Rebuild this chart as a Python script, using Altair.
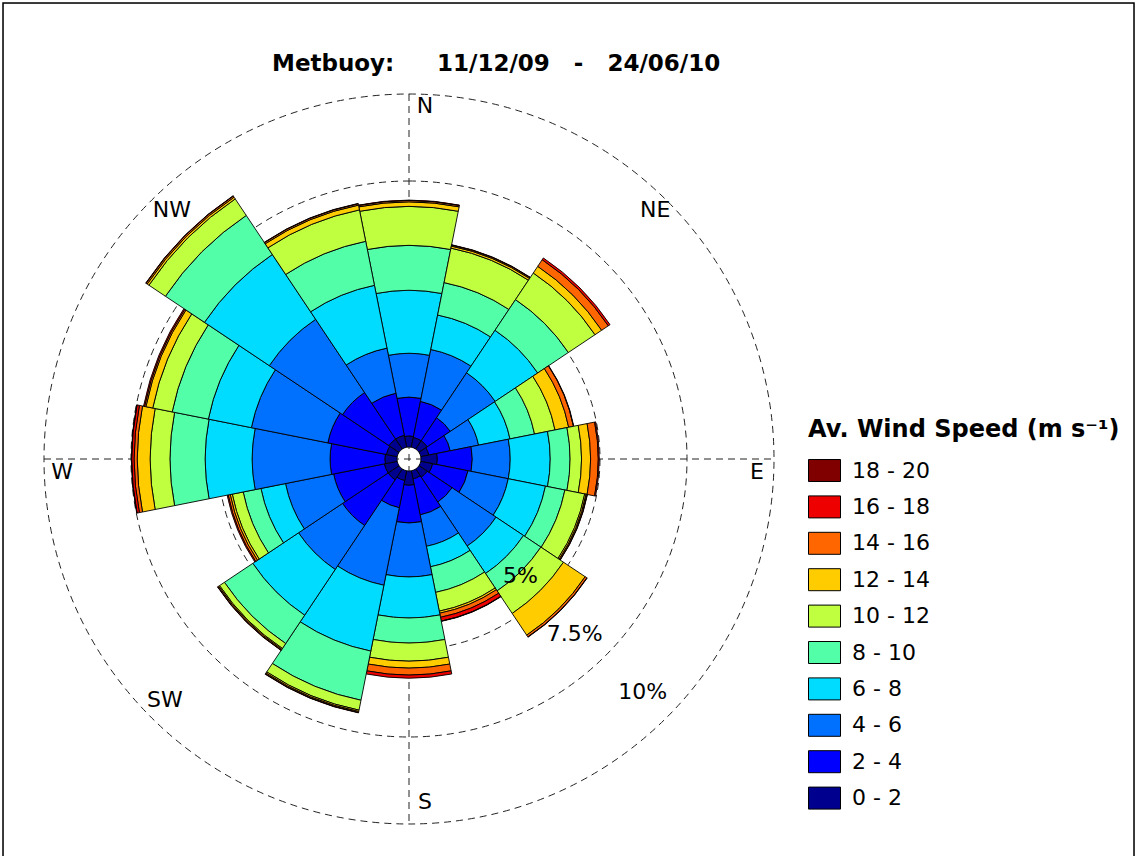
import math
import pandas as pd
import altair as alt

# Wind rose: frequency (%) of wind from each of 16 sectors, split by speed class
directions = ["N", "NNE", "NE", "ENE", "E", "ESE", "SE", "SSE",
              "S", "SSW", "SW", "WSW", "W", "WNW", "NW", "NNW"]
speed_bins = ["0 - 2", "2 - 4", "4 - 6", "6 - 8", "8 - 10",
              "10 - 12", "12 - 14", "14 - 16", "16 - 18", "18 - 20"]
bin_colors = ["#00008f", "#0000ff", "#0070ff", "#00dcff", "#52ffa8",
              "#bfff40", "#ffcc00", "#ff6600", "#ee0000", "#800000"]

# percentage of records per sector, one list per speed class (same order as directions)
pct_0_2 = [0.17, 0.14, 0.14, 0.09, 0.32, 0.20, 0.14, 0.09, 0.26, 0.14, 0.23, 0.23, 0.20, 0.17, 0.20, 0.20]
pct_2_4 = [1.12, 1.06, 0.80, 0.63, 1.01, 1.04, 0.86, 1.06, 1.09, 0.80, 1.58, 1.49, 1.58, 1.72, 1.61, 1.24]
pct_4_6 = [1.26, 1.52, 1.55, 0.83, 1.09, 1.18, 1.52, 0.92, 1.55, 2.27, 1.52, 1.41, 2.24, 2.24, 2.53, 1.32]
pct_6_8 = [1.81, 1.01, 1.47, 0.92, 1.15, 1.09, 0.95, 0.60, 1.18, 1.93, 1.58, 0.72, 1.35, 1.26, 2.24, 1.84]
pct_8_10 = [1.29, 0.95, 1.06, 0.72, 0.57, 0.57, 0.60, 0.75, 0.72, 1.44, 0.98, 0.52, 1.01, 1.06, 1.35, 1.29]
pct_10_12 = [1.12, 1.01, 0.92, 0.60, 0.33, 0.58, 0.78, 0.55, 0.52, 0.29, 0.17, 0.32, 0.57, 0.57, 0.57, 0.92]
pct_12_14 = [0.13, 0.06, 0.23, 0.40, 0.26, 0.04, 0.75, 0.06, 0.20, 0.04, 0.03, 0.06, 0.37, 0.20, 0.06, 0.14]
pct_14_16 = [0.04, 0.03, 0.23, 0.14, 0.22, 0.03, 0.06, 0.12, 0.20, 0.03, 0.03, 0.06, 0.09, 0.04, 0.04, 0.04]
pct_16_18 = [0.01, 0.01, 0.06, 0.01, 0.03, 0.01, 0.01, 0.11, 0.09, 0.01, 0.01, 0.03, 0.07, 0.03, 0.01, 0.01]
pct_18_20 = [0.00, 0.00, 0.00, 0.00, 0.00, 0.00, 0.00, 0.01, 0.00, 0.00, 0.00, 0.00, 0.01, 0.00, 0.00, 0.00]

series = [pct_0_2, pct_2_4, pct_4_6, pct_6_8, pct_8_10,
          pct_10_12, pct_12_14, pct_14_16, pct_16_18, pct_18_20]

ring_values = [5, 7.5, 10]
ring_labels = ["5%", "7.5%", "10%"]
compass_labels = ["N", "NE", "E", "S", "SW", "W", "NW"]
compass_angles = [0, 45, 90, 180, 225, 270, 315]
# pixel nudges so the letters sit clear of the dashed cross
compass_nudge = [(16, 12), (-12, 9), (-17, 13), (16, -22), (14, -17), (18, 13), (21, 9)]

FONT = "DejaVu Sans"
W, H = 1131, 853
CX, CY = 406, 456          # centre of the rose inside the view
R_ZERO, R_TEN = 17, 365    # pixel radius of 0 % and 10 %
HOLE = 12                  # inner radius of the calm hole
SECTOR = 22.5

# stacked wedge table
rows = []
for i, d in enumerate(directions):
    start = (i * SECTOR - SECTOR / 2) % 360
    cum = 0.0
    for b, vals in zip(speed_bins, series):
        v = vals[i]
        rows.append(dict(direction=d, speed=b, pct=v, inner=cum, outer=cum + v,
                         a0=math.radians(start), a1=math.radians(start + SECTOR)))
        cum += v
wedge_df = pd.DataFrame(rows)

r_scale = alt.Scale(type="linear", domain=[0, 10], range=[R_ZERO, R_TEN])

legend = alt.Legend(
    title="Av. Wind Speed (m s\u207b\u00b9)",
    orient="none", legendX=805, legendY=415, direction="vertical",
    symbolType="M-1,-0.6875H1V0.6875H-1Z", symbolSize=1024,
    symbolStrokeColor="black", symbolStrokeWidth=1, symbolOpacity=1,
    labelFont=FONT, labelFontSize=22, labelColor="black", labelOffset=11,
    labelLimit=200,
    titleFont=FONT, titleFontSize=24, titleFontWeight="bold", titleColor="black",
    titlePadding=12, titleLimit=500, rowPadding=6.4, padding=0,
)
color = alt.Color("speed:N",
                  scale=alt.Scale(domain=speed_bins[::-1], range=bin_colors[::-1]),
                  legend=legend)

wedge_base = alt.Chart(wedge_df).mark_arc(stroke="black", strokeWidth=0.9)
common = dict(
    x=alt.value(CX), y=alt.value(CY),
    theta=alt.Theta("a0:Q", scale=None, stack=False),
    theta2="a1:Q",
    radius=alt.Radius("outer:Q", scale=r_scale, stack=False),
    color=color,
)
outer_wedges = wedge_base.transform_filter(
    "datum.pct > 0 && datum.speed != '0 - 2'"
).encode(radius2="inner:Q", **common)
core_wedges = wedge_base.transform_filter(
    "datum.speed == '0 - 2'"
).encode(radius2=alt.value(HOLE), **common)

# dashed percentage circles and N-S / E-W cross
dash = [7, 5]
grid_color = "#222222"
rings = alt.Chart(pd.DataFrame({"ring": ring_values})).mark_arc(
    filled=False, stroke=grid_color, strokeWidth=1, strokeDash=dash
).encode(
    x=alt.value(CX), y=alt.value(CY),
    theta=alt.value(0), theta2=alt.value(2 * math.pi),
    radius=alt.Radius("ring:Q", scale=r_scale, stack=False),
)
one = pd.DataFrame({"k": [0]})
vline = alt.Chart(one).mark_rule(stroke=grid_color, strokeWidth=1, strokeDash=dash).encode(
    x=alt.value(CX), y=alt.value(CY - R_TEN), y2=alt.value(CY + R_TEN))
hline = alt.Chart(one).mark_rule(stroke=grid_color, strokeWidth=1, strokeDash=dash).encode(
    y=alt.value(CY), x=alt.value(CX - R_TEN), x2=alt.value(CX + R_TEN))

# compass letters on the 10 % circle
compass_layers = []
for lab, ang, (dx, dy) in zip(compass_labels, compass_angles, compass_nudge):
    compass_layers.append(
        alt.Chart(pd.DataFrame({"t": [lab], "r": [10]})).mark_text(
            font=FONT, fontSize=22, color="black", align="center", baseline="middle",
            dx=dx, dy=dy
        ).encode(
            x=alt.value(CX), y=alt.value(CY),
            theta=alt.value(math.radians(ang)),
            radius=alt.Radius("r:Q", scale=r_scale, stack=False),
            text="t:N",
        )
    )

# percentage labels along the SE side
ring_text = alt.Chart(pd.DataFrame({"t": ring_labels, "r": ring_values})).mark_text(
    font=FONT, fontSize=22, color="black", align="right", baseline="middle", dx=-13, dy=-11
).encode(
    x=alt.value(CX), y=alt.value(CY),
    theta=alt.value(math.radians(132)),
    radius=alt.Radius("r:Q", scale=r_scale, stack=False),
    text="t:N",
)

title_a = alt.Chart(pd.DataFrame({"t": ["Metbuoy:"]})).mark_text(
    font=FONT, fontSize=23, fontWeight="bold", color="black", align="left", baseline="alphabetic"
).encode(x=alt.value(269), y=alt.value(68), text="t:N")
title_b = alt.Chart(pd.DataFrame({"t": ["11/12/09\u00a0\u00a0\u00a0-\u00a0\u00a0\u00a024/06/10"]})).mark_text(
    font=FONT, fontSize=23, fontWeight="bold", color="black", align="left", baseline="alphabetic"
).encode(x=alt.value(434), y=alt.value(68), text="t:N")

# outer frame round the figure
frame = alt.Chart(one).mark_rect(filled=False, stroke="black", strokeWidth=1.5).encode(
    x=alt.value(0), x2=alt.value(W), y=alt.value(0), y2=alt.value(H + 10))

chart = alt.layer(
    rings, vline, hline, outer_wedges, core_wedges, ring_text, *compass_layers,
    title_a, title_b, frame
).properties(
    width=W, height=H,
    padding={"left": 3, "top": 3, "right": 9, "bottom": 0},
    autosize=alt.AutoSizeParams(type="none"),
).configure_view(
    stroke=None
).configure(background="white")

chart.save("out.html", embed_options={"renderer": "svg", "actions": False})
